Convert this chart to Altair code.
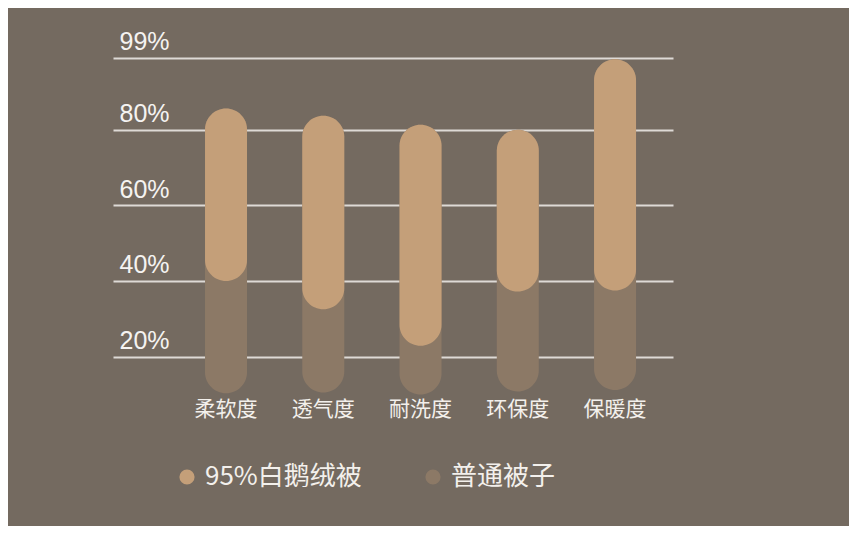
import altair as alt
import pandas as pd

categories = ["柔软度", "透气度", "耐洗度", "环保度", "保暖度"]
goose_high = [85.6, 83.7, 81.3, 80.0, 98.6]
goose_low = [40.0, 32.5, 22.9, 37.2, 37.5]
ordinary_low = [10.3, 10.5, 10.0, 10.8, 11.2]
tick_values = [20, 40, 60, 80, 99]
series_names = ["95%白鹅绒被", "普通被子"]
series_colors = ["#c49f79", "#8c7966"]

rows = []
for c, lo, hi in zip(categories, ordinary_low, goose_high):
    rows.append({"category": c, "series": series_names[1], "start": lo, "end": hi, "draw": 0})
for c, lo, hi in zip(categories, goose_low, goose_high):
    rows.append({"category": c, "series": series_names[0], "start": lo, "end": hi, "draw": 1})
df = pd.DataFrame(rows)

chart = alt.Chart(df).mark_bar(cornerRadius=21, size=42).encode(
    x=alt.X(
        "category:N",
        sort=categories,
        scale=alt.Scale(paddingInner=0.5, paddingOuter=0.629, align=0.725),
        axis=alt.Axis(
            title=None, labelAngle=0, domain=False, ticks=False, labelPadding=7,
            labelBaseline="middle", labelFontSize=21, labelFont="Noto Sans CJK SC",
            labelColor="#f3f0ec",
        ),
    ),
    y=alt.Y(
        "start:Q",
        scale=alt.Scale(domain=[8, 100], nice=False, zero=False),
        axis=alt.Axis(
            title=None, values=tick_values, labelExpr="datum.value + '%'",
            grid=True, gridColor="#dedad6", gridWidth=2, domain=False, ticks=False,
            tickSize=0, labelAlign="left", labelPadding=-6, labelOffset=-8,
            labelBaseline="alphabetic", labelFontSize=25, labelFont="Liberation Sans",
            labelColor="#f5f3f1",
        ),
    ),
    y2="end:Q",
    color=alt.Color(
        "series:N",
        scale=alt.Scale(domain=series_names, range=series_colors),
        legend=alt.Legend(
            title=None, orient="none", legendX=61, legendY=410, direction="horizontal",
            symbolType="circle", symbolSize=230, symbolStrokeWidth=0,
            labelFontSize=26, labelFont="Noto Sans CJK SC", labelColor="#f3f0ec",
            labelOffset=5, columnPadding=58, padding=0,
        ),
    ),
    order=alt.Order("draw:Q"),
).properties(
    width=560,
    height=348,
    padding={"left": 105, "top": 46, "right": 176, "bottom": 124},
    autosize=alt.AutoSizeParams(type="none"),
    background="#746a60",
).configure_view(stroke=None)

chart.save("out.html", embed_options={"renderer": "svg", "actions": False})
